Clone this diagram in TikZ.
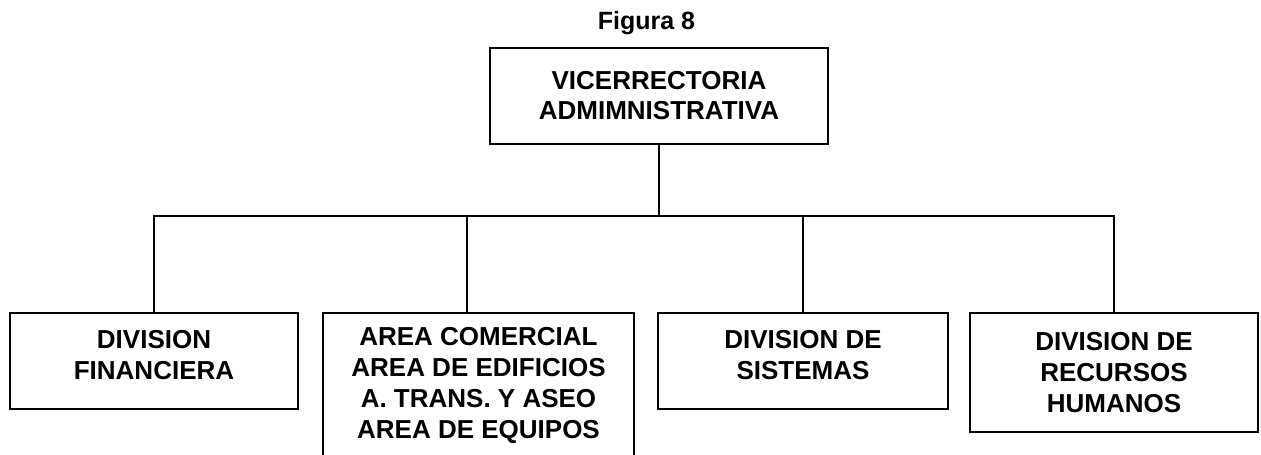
\documentclass[tikz,border=0pt]{standalone}
\usepackage{fontspec}
\setmainfont{Liberation Sans}

\tikzset{
    unidad/.style={draw,line width=1.6pt,align=center,inner sep=0pt,
        font=\fontsize{26}{31}\selectfont\bfseries},
}

\begin{document}
\begin{tikzpicture}[x=1pt,y=-1pt,line width=1.6pt]
    \useasboundingbox[fill=white](0,0)rectangle(1261,455);
    \node[anchor=base,font=\fontsize{25}{30}\selectfont\bfseries](titulo)at(646.5,29){Figura 8};

    \node[unidad,minimum width=338pt,minimum height=96pt,font=\fontsize{26}{30}\selectfont\bfseries](vice)at(659,96){VICERRECTORIA\\ADMIMNISTRATIVA};
    \node[unidad,minimum width=288pt,minimum height=96pt,text depth=13pt](fin)at(154,361){DIVISION\\FINANCIERA};
    \node[unidad,minimum width=311pt,minimum height=145pt](area)at(478.5,385.5){AREA COMERCIAL\\AREA DE EDIFICIOS\\A. TRANS. Y ASEO\\AREA DE EQUIPOS};
    \node[unidad,minimum width=290pt,minimum height=96pt,text depth=13pt](sis)at(803,361){DIVISION DE\\SISTEMAS};
    \node[unidad,minimum width=288pt,minimum height=119pt](rrhh)at(1114,372.5){DIVISION DE\\RECURSOS\\HUMANOS};

    \coordinate(bus)at(0,216);
    \coordinate(areatop)at(467,313);
    \draw(vice.south)--(vice.south|-bus);
    \draw(fin.north)|-(rrhh.north|-bus)--(rrhh.north);
    \draw(areatop)--(areatop|-bus);
    \draw(sis.north)--(sis.north|-bus);
\end{tikzpicture}
\end{document}
